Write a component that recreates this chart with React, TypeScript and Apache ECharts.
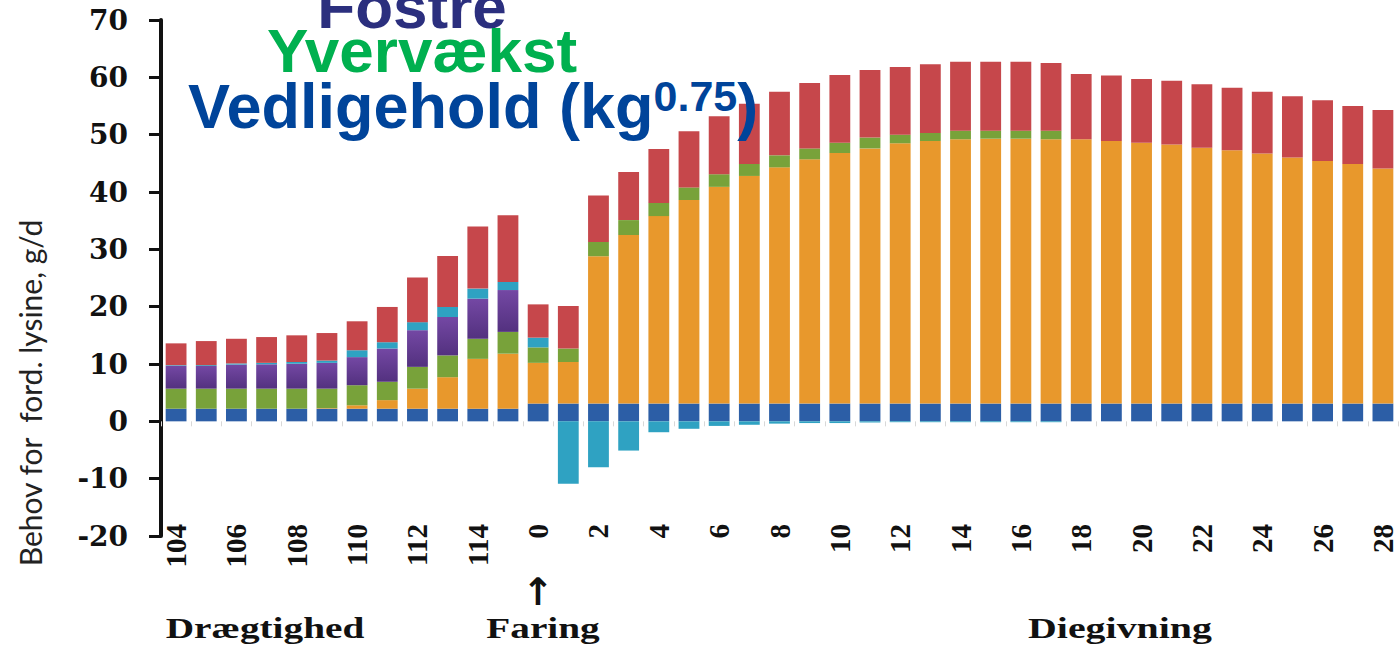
import React, { useEffect, useRef } from 'react';
import * as echarts from 'echarts';

// Days before farrowing (104–115), farrowing (0) and lactation days (1–28)
const categories: string[] = [
  '104', '105', '106', '107', '108', '109', '110', '111', '112', '113', '114', '115',
  '0', '1', '2', '3', '4', '5', '6', '7', '8', '9', '10', '11', '12', '13', '14',
  '15', '16', '17', '18', '19', '20', '21', '22', '23', '24', '25', '26', '27', '28',
];

// Lysine requirement per component, g/d
const vedligehold: number[] = [
  2.2, 2.2, 2.2, 2.2, 2.2, 2.2, 2.2, 2.2, 2.2, 2.2, 2.2, 2.2,
  3.1, 3.1, 3.1, 3.1, 3.1, 3.1, 3.1, 3.1, 3.1, 3.1, 3.1, 3.1, 3.1, 3.1, 3.1,
  3.1, 3.1, 3.1, 3.1, 3.1, 3.1, 3.1, 3.1, 3.1, 3.1, 3.1, 3.1, 3.1, 3.1,
];
const maelk: number[] = [
  0, 0, 0, 0, 0, 0.1, 0.6, 1.5, 3.5, 5.5, 8.7, 9.6,
  7.1, 7.25, 25.7, 29.4, 32.7, 35.5, 37.8, 39.7, 41.2, 42.6, 43.7, 44.5, 45.4, 45.8, 46.1,
  46.2, 46.2, 46.1, 46.1, 45.8, 45.5, 45.2, 44.6, 44.2, 43.6, 42.9, 42.3, 41.8, 41.0,
];
const yvervaekst: number[] = [
  3.5, 3.5, 3.5, 3.5, 3.5, 3.4, 3.5, 3.2, 3.8, 3.8, 3.5, 3.8,
  2.7, 2.35, 2.5, 2.6, 2.3, 2.2, 2.2, 2.1, 2.1, 1.9, 1.8, 1.9, 1.5, 1.4, 1.5,
  1.4, 1.4, 1.5, 0, 0, 0, 0, 0, 0, 0, 0, 0, 0, 0,
];
const fostre: number[] = [
  4.0, 3.95, 4.2, 4.25, 4.35, 4.5, 4.9, 5.8, 6.4, 6.7, 7.0, 7.3,
  0, 0, 0, 0, 0, 0, 0, 0, 0, 0, 0, 0, 0, 0, 0,
  0, 0, 0, 0, 0, 0, 0, 0, 0, 0, 0, 0, 0, 0,
];
const livmoder: number[] = [
  0.1, 0.15, 0.2, 0.25, 0.3, 0.4, 1.2, 1.1, 1.4, 1.75, 1.75, 1.4,
  1.7, -10.9, -8.0, -5.1, -1.9, -1.3, -0.8, -0.6, -0.4, -0.3, -0.3, -0.2, -0.15, -0.15, -0.15,
  -0.15, -0.15, -0.15, 0, 0, 0, 0, 0, 0, 0, 0, 0, 0, 0,
];
const tilvaekst: number[] = [
  3.8, 4.2, 4.3, 4.5, 4.65, 4.8, 5.05, 6.15, 7.8, 8.9, 10.85, 11.65,
  5.8, 7.4, 8.1, 8.4, 9.4, 9.8, 10.1, 10.5, 11.1, 11.4, 11.8, 11.8, 11.8, 12.0, 12.0,
  12.0, 12.0, 11.8, 11.4, 11.4, 11.1, 11.1, 11.1, 10.9, 10.8, 10.7, 10.6, 10.1, 10.2,
];

const yTicks = { min: -20, max: 70, interval: 10 };

const seriesDefs = [
  { name: 'Vedligehold', data: vedligehold, color: '#2c5ea6' },
  { name: 'Mælk', data: maelk, color: '#e8982c' },
  { name: 'Yvervækst', data: yvervaekst, color: '#78a23a' },
  {
    name: 'Fostre',
    data: fostre,
    color: new echarts.graphic.LinearGradient(0, 0, 0, 1, [
      { offset: 0, color: '#7448a4' },
      { offset: 1, color: '#53317f' },
    ]),
  },
  { name: 'Livmoder', data: livmoder, color: '#2fa2c2' },
  { name: 'Tilvækst', data: tilvaekst, color: '#c6474b' },
];

const serif = 'Liberation Serif';
const sans = 'Liberation Sans';

export default function App() {
  const ref = useRef<HTMLDivElement>(null);

  useEffect(() => {
    const chart = echarts.init(ref.current!, null, { renderer: 'svg' });
    chart.setOption({
      animation: false,
      backgroundColor: '#ffffff',
      grid: { left: 161, right: 1, top: 20, bottom: 110, containLabel: false },
      xAxis: [
        {
          type: 'category',
          data: categories,
          position: 'bottom',
          axisLine: { show: false, onZero: false },
          axisTick: { show: false },
          axisLabel: {
            interval: 1,
            rotate: 90,
            margin: -12,
            fontFamily: serif,
            fontWeight: 'bold',
            fontSize: 29,
            color: '#111',
          },
        },
        {
          type: 'category',
          data: categories,
          position: 'bottom',
          axisLine: { show: false, onZero: true },
          axisTick: { show: true, length: 5, lineStyle: { color: '#d8d8d8', width: 1 } },
          axisLabel: { show: false },
        },
      ],
      yAxis: {
        type: 'value',
        min: yTicks.min,
        max: yTicks.max,
        interval: yTicks.interval,
        splitLine: { show: false },
        axisLine: { show: true, lineStyle: { color: '#111', width: 4 } },
        axisTick: { show: true, length: 12, lineStyle: { color: '#111', width: 3 } },
        axisLabel: {
          margin: 33,
          fontFamily: 'DejaVu Serif',
          fontWeight: 'bold',
          fontSize: 28,
          color: '#111',
        },
      },
      series: seriesDefs.map((s) => ({
        name: s.name,
        type: 'bar',
        stack: 'behov',
        xAxisIndex: 0,
        barCategoryGap: '31%',
        data: s.data,
        itemStyle: { color: s.color },
      })),
      graphic: [
        {
          type: 'text',
          x: 30,
          y: 393,
          rotation: Math.PI / 2,
          z: 100,
          style: {
            text: 'Behov for  ford. lysine, g/d',
            fontFamily: 'Lato',
            fontSize: 30,
            fill: '#222',
            align: 'center',
            verticalAlign: 'middle',
          },
        },
        {
          type: 'text',
          x: 265,
          y: 628,
          scaleX: 1.31,
          z: 100,
          style: {
            text: 'Drægtighed',
            fontFamily: serif,
            fontWeight: 'bold',
            fontSize: 30,
            fill: '#111',
            align: 'center',
            verticalAlign: 'middle',
          },
        },
        {
          type: 'text',
          x: 543,
          y: 628,
          scaleX: 1.31,
          z: 100,
          style: {
            text: 'Faring',
            fontFamily: serif,
            fontWeight: 'bold',
            fontSize: 30,
            fill: '#111',
            align: 'center',
            verticalAlign: 'middle',
          },
        },
        {
          type: 'text',
          x: 538,
          y: 592,
          z: 100,
          style: {
            text: '↑',
            fontFamily: 'DejaVu Sans',
            fontWeight: 'bold',
            fontSize: 38,
            fill: '#111',
            align: 'center',
            verticalAlign: 'middle',
          },
        },
        {
          type: 'text',
          x: 1120,
          y: 628,
          scaleX: 1.33,
          z: 100,
          style: {
            text: 'Diegivning',
            fontFamily: serif,
            fontWeight: 'bold',
            fontSize: 30,
            fill: '#111',
            align: 'center',
            verticalAlign: 'middle',
          },
        },
        {
          type: 'text',
          x: 412,
          y: 6,
          z: 100,
          style: {
            text: 'Fostre',
            fontFamily: sans,
            fontWeight: 'bold',
            fontSize: 62,
            fill: '#2b2f7e',
            align: 'center',
            verticalAlign: 'middle',
          },
        },
        {
          type: 'text',
          x: 422,
          y: 50,
          z: 100,
          style: {
            text: 'Yvervækst',
            fontFamily: sans,
            fontWeight: 'bold',
            fontSize: 62,
            fill: '#00b04f',
            align: 'center',
            verticalAlign: 'middle',
          },
        },
        {
          type: 'text',
          x: 188,
          y: 106,
          z: 100,
          style: {
            text: '{m|Vedligehold (kg}{s|0.75}{m|)}',
            align: 'left',
            verticalAlign: 'middle',
            rich: {
              m: {
                fontFamily: sans,
                fontWeight: 'bold',
                fontSize: 63,
                lineHeight: 63,
                fill: '#00449a',
              },
              s: {
                fontFamily: sans,
                fontWeight: 'bold',
                fontSize: 43,
                lineHeight: 43,
                verticalAlign: 'top',
                fill: '#00449a',
              },
            },
          },
        },
      ],
    });
    return () => chart.dispose();
  }, []);

  return (
    <div
      ref={ref}
      style={{ position: 'absolute', left: 0, top: 0, width: 1399, height: 646, background: '#fff' }}
    />
  );
}
